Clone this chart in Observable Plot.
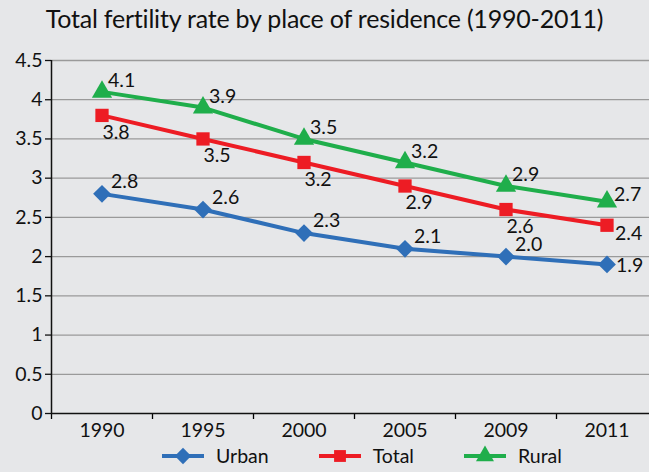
<!DOCTYPE html>
<html><head><meta charset="utf-8">
<script src="https://cdn.jsdelivr.net/npm/d3@7"></script>
<script src="https://cdn.jsdelivr.net/npm/@observablehq/plot@0.6"></script>
<style>
html,body{margin:0;padding:0;background:#e6e7e9;}
#wrap{width:649px;height:472px;overflow:hidden;background:#e6e7e9;font-family:Lato,"Noto Sans",sans-serif;}
#title{height:36px;line-height:36px;text-align:center;font-size:25px;color:#111;padding-left:0px;letter-spacing:-0.2px;}
#legend{display:flex;justify-content:flex-start;padding-left:160px;height:26px;align-items:center;font-size:19.5px;color:#111;margin-top:-6px;}
.item{display:flex;align-items:center;margin-right:48px;}
.item svg{margin-right:10px;}
</style></head>
<body><div id="wrap">
<div id="title">Total fertility rate by place of residence (1990-2011)</div>
<div id="chart"></div>
<div id="legend"></div>
</div>
<script>
const years = ["1990","1995","2000","2005","2009","2011"];
const urban = [2.8,2.6,2.3,2.1,2.0,1.9];
const total = [3.8,3.5,3.2,2.9,2.6,2.4];
const rural = [4.1,3.9,3.5,3.2,2.9,2.7];
const yTicks = [0,0.5,1,1.5,2,2.5,3,3.5,4,4.5];
const seriesNames = ["Urban","Total","Rural"];
const colors = {Urban:"#2f6fb8", Total:"#ed1c24", Rural:"#1fae4b"};
const symbols = {Urban:"diamond2", Total:"square", Rural:"triangle"};
const radius = {Urban:8, Total:7.5, Rural:7.5};

const rows = [];
[["Urban",urban],["Total",total],["Rural",rural]].forEach(([s,vals]) => {
  vals.forEach((v,i) => rows.push({series:s, i, year:years[i], value:v, last:i===years.length-1}));
});
const idx = years.map((_,i)=>i);
const bounds = years.map((_,i)=>i-0.5);
const font = "Lato, 'Noto Sans', sans-serif";

const labelSpec = {
  Urban: {normal:{dx:9,dy:-12,anchor:"start"}, last:{dx:9,dy:1,anchor:"start"}},
  Total: {normal:{dx:14,dy:17,anchor:"middle"}, last:{dx:8,dy:9,anchor:"start"}},
  Rural: {normal:{dx:6,dy:-11,anchor:"start"}, last:{dx:7,dy:-7,anchor:"start"}}
};
const labelMarks = [];
for (const s of seriesNames) {
  for (const k of ["normal","last"]) {
    const sp = labelSpec[s][k];
    labelMarks.push(Plot.text(rows.filter(d=>d.series===s && (k==="last")===d.last), {
      x:"i", y:"value", text:d=>d.value.toFixed(1), dx:sp.dx, dy:sp.dy, textAnchor:sp.anchor,
      fontSize:19.5, fill:"#111"
    }));
  }
}

const chart = Plot.plot({
  width:649, height:412,
  marginLeft:51, marginRight:-8, marginTop:24, marginBottom:35,
  style:{background:"transparent", fontFamily:font},
  x:{type:"linear", domain:[-0.5,5.5]},
  y:{domain:[0,4.5]},
  marks:[
    Plot.ruleY(yTicks.filter(d=>d>0), {stroke:"#9a9a9a", strokeWidth:1.3}),
    Plot.axisY({ticks:yTicks, tickSize:6, tickPadding:3, fontSize:19.5, tickFormat:d=>String(d), label:null, color:"#111", strokeWidth:1.3}),
    Plot.axisX({ticks:bounds, tickSize:6, tickFormat:()=>"", label:null, strokeWidth:1.3}),
    Plot.axisX({ticks:idx, tickSize:0, tickPadding:10, fontSize:19.5, tickFormat:i=>years[i], label:null, color:"#111"}),
    Plot.ruleX([-0.5], {y1:0, y2:4.5, stroke:"#111", strokeWidth:1.5}),
    Plot.ruleY([0], {stroke:"#111", strokeWidth:1.5}),
    ...seriesNames.map(s => Plot.line(rows.filter(d=>d.series===s), {x:"i", y:"value", stroke:colors[s], strokeWidth:4})),
    ...seriesNames.map(s => Plot.dot(rows.filter(d=>d.series===s), {x:"i", y:"value", fill:colors[s], symbol:symbols[s], r:radius[s], stroke:"none"})),
    ...labelMarks
  ]
});
document.getElementById("chart").appendChild(chart);

const legend = document.getElementById("legend");
for (const s of seriesNames) {
  const item = document.createElement("div");
  item.className = "item";
  const sv = d3.create("svg").attr("width",46).attr("height",22);
  sv.append("line").attr("x1",2).attr("x2",44).attr("y1",12).attr("y2",12).attr("stroke",colors[s]).attr("stroke-width",4);
  sv.append("path").attr("transform","translate(23,12)").attr("fill",colors[s])
    .attr("d", d3.symbol().type(s==="Urban"?d3.symbolDiamond2:s==="Total"?d3.symbolSquare:d3.symbolTriangle).size(s==="Urban"?170:140)());
  item.appendChild(sv.node());
  const t = document.createElement("span"); t.textContent = s;
  item.appendChild(t);
  legend.appendChild(item);
}
</script>
</body></html>
